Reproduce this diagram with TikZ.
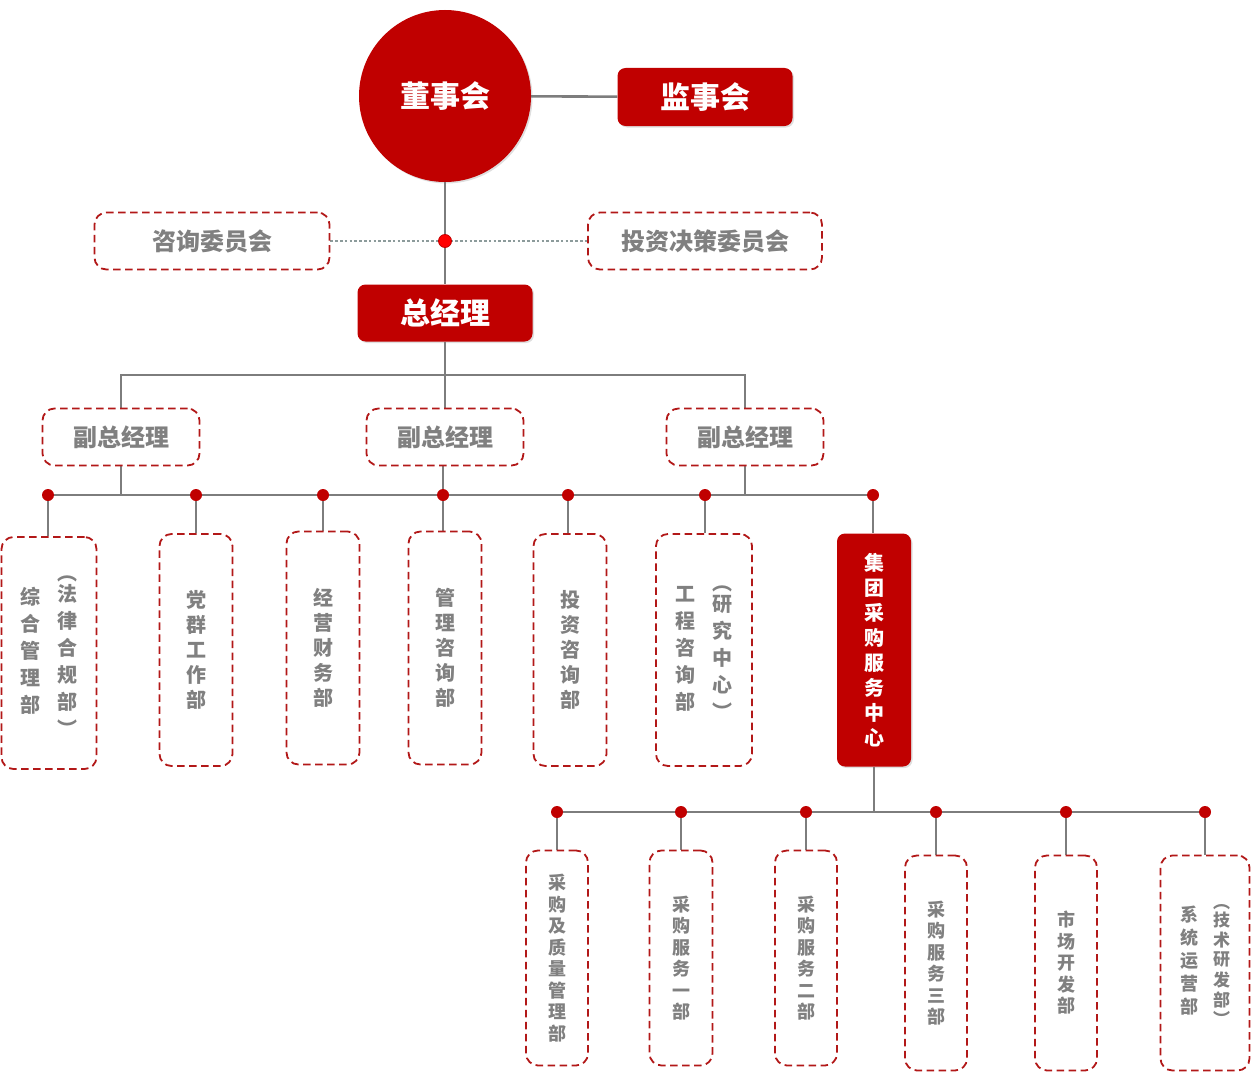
\documentclass[tikz,border=0pt]{standalone}
\usepackage{fontspec}
\usepackage{xcolor}
\usetikzlibrary{shadows,backgrounds}
\setmainfont{Noto Sans CJK SC}
\definecolor{cRed}{RGB}{192,0,0}
\definecolor{cEdge}{RGB}{178,24,24}
\definecolor{cGray}{RGB}{128,128,128}
\definecolor{cLine}{RGB}{125,125,125}
\definecolor{cDot}{RGB}{140,155,155}
\newcommand{\vcol}[1]{\begin{tabular}[c]{@{}c@{}}#1\end{tabular}}
\tikzset{
  lead/.style={fill=cRed, rounded corners=8pt, text=white, inner sep=0pt,
    font=\bfseries\fontsize{30}{32}\selectfont,
    drop shadow={opacity=0.25, shadow xshift=1.5pt, shadow yshift=-1.5pt}},
  unit/.style={draw=cEdge, dash pattern=on 7.5pt off 4.5pt, line width=1.8pt,
    rounded corners=12pt, text=cGray, inner sep=0pt, align=center},
  link/.style={draw=cLine, line width=2.6pt},
  dot/.style={circle, fill=cRed, inner sep=0pt, minimum size=12pt}
}
\begin{document}
\begin{tikzpicture}[x=1pt,y=-1pt]
            \useasboundingbox (0,0) rectangle (1253,1073);

            % top level
            \node[lead, circle, minimum size=172pt] (board) at (445,96) {董事会};
            \node[lead, minimum width=175pt, minimum height=58pt] (sup) at (705,97) {监事会};
            \node[unit, minimum width=235pt, minimum height=57pt,
                  font=\bfseries\fontsize{24}{26}\selectfont] (ac) at (212,241) {咨询委员会};
            \node[unit, minimum width=234pt, minimum height=57pt,
                  font=\bfseries\fontsize{24}{26}\selectfont] (ic) at (705,241) {投资决策委员会};
            \node[lead, minimum width=175pt, minimum height=57pt] (gm) at (445,313) {总经理};
            \coordinate (td) at (445,241);

            % deputies
            \node[unit, minimum width=157pt, minimum height=57pt,
                  font=\bfseries\fontsize{24}{26}\selectfont] (v1) at (121,437) {副总经理};
            \node[unit, minimum width=157pt, minimum height=57pt,
                  font=\bfseries\fontsize{24}{26}\selectfont] (v2) at (445,437) {副总经理};
            \node[unit, minimum width=157pt, minimum height=57pt,
                  font=\bfseries\fontsize{24}{26}\selectfont] (v3) at (745,437) {副总经理};
            \coordinate (busA) at (445,375);

            % departments
            \node[dot] (d1) at (48,495) {};
            \node[dot] (d2) at (196,495) {};
            \node[dot] (d3) at (323,495) {};
            \node[dot] (d4) at (443,495) {};
            \node[dot] (d5) at (568,495) {};
            \node[dot] (d6) at (705,495) {};
            \node[dot] (d7) at (873,495) {};

            \node[unit, minimum width=95pt, minimum height=232pt,
                  font=\bfseries\fontsize{20}{27}\selectfont] (u1) at (49,653)
                  {\vcol{综\\合\\管\\理\\部}\hspace{17pt}\vcol{︵\\[-6pt]法\\律\\合\\规\\部\\︶}};
            \node[unit, minimum width=73pt, minimum height=232pt,
                  font=\bfseries\fontsize{20}{25}\selectfont] (u2) at (196,650) {党\\群\\工\\作\\部};
            \node[unit, minimum width=73pt, minimum height=233pt,
                  font=\bfseries\fontsize{20}{25}\selectfont] (u3) at (323,648) {经\\营\\财\\务\\部};
            \node[unit, minimum width=73pt, minimum height=233pt,
                  font=\bfseries\fontsize{20}{25}\selectfont] (u4) at (445,648) {管\\理\\咨\\询\\部};
            \node[unit, minimum width=73pt, minimum height=232pt,
                  font=\bfseries\fontsize{20}{25}\selectfont] (u5) at (570,650) {投\\资\\咨\\询\\部};
            \node[unit, minimum width=96pt, minimum height=232pt,
                  font=\bfseries\fontsize{20}{27}\selectfont] (u6) at (704,650)
                  {\vcol{工\\程\\咨\\询\\部}\hspace{17pt}\vcol{︵\\[-6pt]研\\究\\中\\心\\︶}};
            \node[lead, rounded corners=8pt, minimum width=74pt, minimum height=233pt, align=center,
                  font=\bfseries\fontsize{20}{25}\selectfont] (u7) at (874,650)
                  {集\\团\\采\\购\\服\\务\\中\\心};

            % purchasing units
            \node[dot] (e1) at (557,812) {};
            \node[dot] (e2) at (681,812) {};
            \node[dot] (e3) at (806,812) {};
            \node[dot] (e4) at (936,812) {};
            \node[dot] (e5) at (1066,812) {};
            \node[dot] (e6) at (1205,812) {};
            \coordinate (busC) at (874,812);

            \node[unit, minimum width=62pt, minimum height=215pt,
                  font=\bfseries\fontsize{18}{21.5}\selectfont] (b1) at (557,958)
                  {采\\购\\及\\质\\量\\管\\理\\部};
            \node[unit, minimum width=63pt, minimum height=215pt,
                  font=\bfseries\fontsize{18}{21.5}\selectfont] (b2) at (681,958)
                  {采\\购\\服\\务\\一\\部};
            \node[unit, minimum width=62pt, minimum height=215pt,
                  font=\bfseries\fontsize{18}{21.5}\selectfont] (b3) at (806,958)
                  {采\\购\\服\\务\\二\\部};
            \node[unit, minimum width=62pt, minimum height=215pt,
                  font=\bfseries\fontsize{18}{21.5}\selectfont] (b4) at (936,963)
                  {采\\购\\服\\务\\三\\部};
            \node[unit, minimum width=62pt, minimum height=215pt,
                  font=\bfseries\fontsize{18}{21.5}\selectfont] (b5) at (1066,963)
                  {市\\场\\开\\发\\部};
            \node[unit, minimum width=89pt, minimum height=215pt,
                  font=\bfseries\fontsize{18}{23}\selectfont] (b6) at (1205,963)
                  {\vcol{系\\统\\运\\营\\部}\hspace{15pt}{\fontsize{17}{18.5}\selectfont\vcol{︵\\[-2pt]技\\术\\研\\发\\部\\[-1pt]︶}}};

            % connectors
            \begin{scope}[on background layer]
                \draw[link] (board) -- (sup);
                \draw[link] (board) -- (gm);
                \draw[cDot, line width=2.6pt, dash pattern=on 2.6pt off 2.2pt] (ac) -- (td) -- (ic);
                \draw[link] (gm) -- (busA);
                \draw[link] (v1.north) |- (busA) -| (v3.north);
                \draw[link] (busA) -- (v2);
                \draw[link] (d1) -- (d7);
                \draw[link] (v1) -- (v1 |- d1);
                \draw[link] (d4 |- v2.south) -- (d4);
                \draw[link] (v3) -- (v3 |- d1);
                \draw[link] (d1) -- (d1 |- u1.north);
                \draw[link] (d2) -- (u2);
                \draw[link] (d3) -- (u3);
                \draw[link] (d4) -- (d4 |- u4.north);
                \draw[link] (d5) -- (d5 |- u5.north);
                \draw[link] (d6) -- (d6 |- u6.north);
                \draw[link] (d7) -- (d7 |- u7.north);
                \draw[link] (u7) -- (busC);
                \draw[link] (e1) -- (e6);
                \draw[link] (e1) -- (b1);
                \draw[link] (e2) -- (b2);
                \draw[link] (e3) -- (b3);
                \draw[link] (e4) -- (b4);
                \draw[link] (e5) -- (b5);
                \draw[link] (e6) -- (b6);
            \end{scope}
            \node[circle, fill=red, draw=cRed, line width=0.8pt, inner sep=0pt,
                  minimum width=11pt, minimum height=13pt] (tdot) at (td) {};
\end{tikzpicture}
\end{document}
